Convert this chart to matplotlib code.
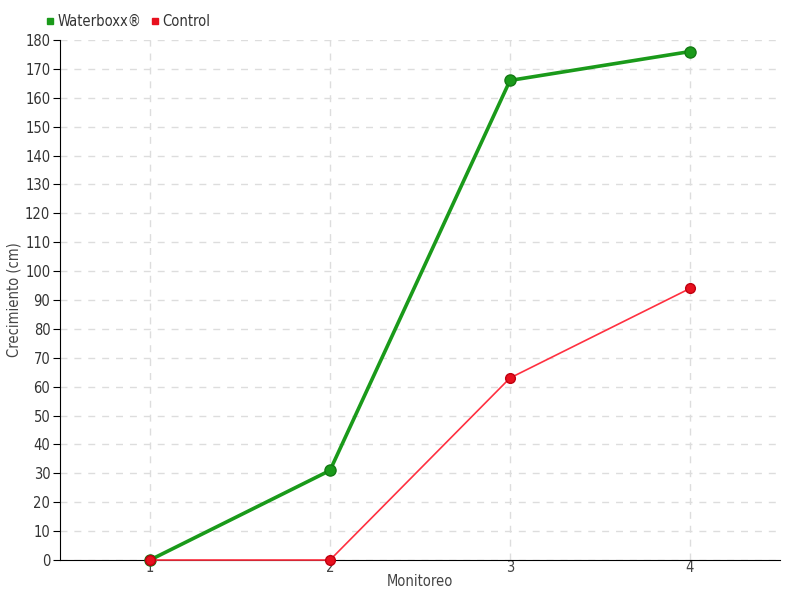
import matplotlib
matplotlib.use("Agg")
import matplotlib.pyplot as plt
from matplotlib.lines import Line2D

plt.rcParams['font.family'] = ['DejaVu Sans']
plt.rcParams['font.stretch'] = 'condensed'

categories = [1, 2, 3, 4]
waterboxx = [0, 31, 166, 176]
control = [0, 0, 63, 94]
yticks = list(range(0, 181, 10))

fig = plt.figure(figsize=(8, 6), dpi=100)
ax = fig.add_axes([60/800, 40/600, 720/800, 520/600])

ax.plot(categories, waterboxx, color='#1a9a1a', lw=2.6, marker='o', ms=8,
        mfc='#1a9a1a', mec='#137a13', zorder=3, clip_on=False)
ax.plot(categories, control, color='#ff3040', lw=1.2, marker='o', ms=7,
        mfc='#e8101e', mec='#c00010', zorder=4, clip_on=False)

ax.set_xlim(0.5, 4.5)
ax.set_ylim(0, 180)
ax.set_xticks(categories)
ax.set_xticklabels([str(c) for c in categories])
ax.set_yticks(yticks)
ax.grid(True, color='#dddddd', linestyle=(0, (5, 5)), lw=1)
ax.set_axisbelow(True)
for s in ['top', 'right']:
    ax.spines[s].set_visible(False)
ax.spines['left'].set_color('black')
ax.spines['bottom'].set_color('black')
ax.tick_params(axis='y', length=5, color='black', labelcolor='#333333', labelsize=10.5, pad=2)
ax.tick_params(axis='x', length=0, labelcolor='#444444', labelsize=10.5, pad=0)
ax.set_xlabel('Monitoreo', fontsize=10.5, color='#444444', labelpad=-1)
ax.set_ylabel('Crecimiento (cm)', fontsize=10.5, color='#444444')
ax.yaxis.set_label_coords(-38/720, 0.5)

handles = [Line2D([], [], ls='none', marker='s', ms=5, color='#1a9a1a'),
           Line2D([], [], ls='none', marker='s', ms=5, color='#e8101e')]
fig.legend(handles, ['Waterboxx®', 'Control'], loc='upper left',
           bbox_to_anchor=(46/800, 1 - 14/600), ncol=2, frameon=False,
           fontsize=10.5, handlelength=0.6, handletextpad=0.2, columnspacing=0.6,
           labelcolor='#333333', borderaxespad=0, borderpad=0)

fig.savefig('out.png', dpi=100)
